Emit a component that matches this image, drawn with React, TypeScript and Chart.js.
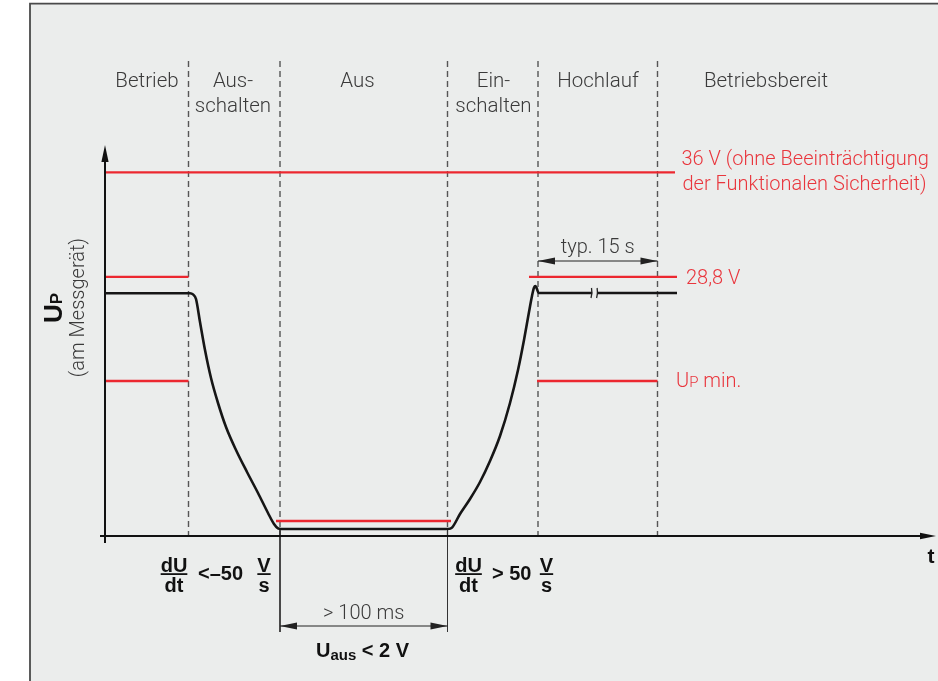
import { useEffect, useRef } from "react";
import { Chart, registerables } from "chart.js";

Chart.register(...registerables);

// ---------- Schematic coordinate system ----------
// x: time (schematic units), y: voltage level (schematic units)
const X_RANGE = [-21, 166.6];
const Y_RANGE = [-36.25, 134];

// ---------- Phases ----------
const phaseLabels = [["Betrieb"], ["Aus-", "schalten"], ["Aus"], ["Ein-", "schalten"], ["Hochlauf"], ["Betriebsbereit"]];
const phaseCenters = [8.4, 25.6, 50.5, 77.7, 98.6, 132.2];
const phaseBoundaries = [16.7, 35, 68.5, 86.6, 110.5];
const phaseTop = 118.75;

// ---------- Voltage levels ----------
const level36V = 90.9;
const level28V = 64.8;
const levelUpMin = 38.75;
const levelAus = 3.75;

// red limit segments
const redStart = [0, 0, 84.8, 0, 86.4, 34.2];
const redEnd = [114, 16.7, 114.4, 16.7, 110.5, 69.2];
const redLevel = [level36V, level28V, level28V, levelUpMin, levelUpMin, levelAus];

// ---------- Supply voltage U_P over time ----------
const upTime = [0, 17, 17.6, 18.2, 19, 20, 21.2, 22.6, 24.2, 26.2, 28.4, 30.6, 32.6, 33.8, 34.6, 35.2, 68.6, 69.4, 71, 73, 75, 77, 79, 81, 82.6, 83.8, 84.8, 85.4, 85.8, 86.1, 86.4, 86.7, 114.4];
const upLevel = [60.7, 60.7, 60.4, 59.25, 53.5, 46.5, 39.5, 33.25, 27.25, 21.5, 16, 10.75, 5.75, 3, 1.9, 1.75, 1.75, 2.1, 5.5, 9.25, 13.5, 18.75, 25, 33.25, 41.5, 49, 56, 60, 62.1, 62.5, 61.75, 60.75, 60.75];
const breakAt = 97.9;

// ---------- Axes ----------
const axisXStart = -1;
const axisXEnd = 166.2;
const axisYStart = -1.75;
const axisYEnd = 97.75;

// ---------- Dimensions ----------
const dimStart = [86.6, 35];
const dimEnd = [110.5, 68.5];
const dimLevel = [68.75, -22.5];
const dimText = ["typ. 15 s", "> 100 ms"];
const dimTextLevel = [70.75, -20.75];
const extLines = [35, 68.5];
const extTop = 1.5;
const extBottom = -24;

// ---------- Styles ----------
const GREY_BG = "#ebedec";
const FRAME = "#4a4a4a";
const RED = "#ec2830";
const RED_TEXT = "#e9363d";
const TEXT = "#3a3a3a";
const LIGHT = (s: number) => `300 ${s}px Roboto, "Liberation Sans", sans-serif`;
const BOLD = (s: number) => `bold ${s}px "Liberation Sans", Arial, sans-serif`;

type Run = { t: string; f: string; dy?: number };

function drawRuns(ctx: CanvasRenderingContext2D, runs: Run[], x: number, y: number, align: "left" | "center", color: string) {
  let total = 0;
  const widths: number[] = [];
  for (const r of runs) {
    ctx.font = r.f;
    const w = ctx.measureText(r.t).width;
    widths.push(w);
    total += w;
  }
  let cx = align === "center" ? x - total / 2 : x;
  ctx.fillStyle = color;
  ctx.textAlign = "left";
  ctx.textBaseline = "alphabetic";
  runs.forEach((r, i) => {
    ctx.font = r.f;
    ctx.fillText(r.t, cx, y + (r.dy || 0));
    cx += widths[i];
  });
}

function arrowHead(ctx: CanvasRenderingContext2D, tx: number, ty: number, dx: number, dy: number, len: number, half: number, color: string) {
  const bx = tx - dx * len;
  const by = ty - dy * len;
  const nx = -dy;
  const ny = dx;
  ctx.beginPath();
  ctx.moveTo(tx, ty);
  ctx.lineTo(bx + nx * half, by + ny * half);
  ctx.lineTo(bx - nx * half, by - ny * half);
  ctx.closePath();
  ctx.fillStyle = color;
  ctx.fill();
}

function fraction(ctx: CanvasRenderingContext2D, num: string, den: string, cx: number, ly: number) {
  ctx.font = BOLD(20);
  const w = Math.max(ctx.measureText(num).width, ctx.measureText(den).width);
  ctx.fillStyle = "#111";
  ctx.textAlign = "center";
  ctx.textBaseline = "alphabetic";
  ctx.fillText(num, cx, ly - 2.5);
  ctx.fillText(den, cx, ly + 18);
  ctx.fillRect(cx - w / 2, ly - 0.8, w, 1.8);
}

const diagramPlugin = {
  id: "diagram",
  beforeDraw(chart: any) {
    const { ctx, width, height } = chart;
    const sx = (v: number) => chart.scales.x.getPixelForValue(v);
    const sy = (v: number) => chart.scales.y.getPixelForValue(v);
    ctx.save();
    ctx.fillStyle = "#fff";
    ctx.fillRect(0, 0, width, height);
    const left = sx(-15);
    const top = sy(133.1);
    ctx.fillStyle = GREY_BG;
    ctx.fillRect(left, top, width - left, height - top);
    ctx.strokeStyle = FRAME;
    ctx.lineWidth = 1.8;
    ctx.beginPath();
    ctx.moveTo(left, height);
    ctx.lineTo(left, top);
    ctx.lineTo(width, top);
    ctx.stroke();
    ctx.restore();
  },
  afterDatasetsDraw(chart: any) {
    const { ctx } = chart;
    const sx = (v: number) => chart.scales.x.getPixelForValue(v);
    const sy = (v: number) => chart.scales.y.getPixelForValue(v);
    ctx.save();

    // axis arrowheads
    arrowHead(ctx, sx(0), sy(axisYEnd), 0, -1, 17, 3.6, "#111");
    arrowHead(ctx, sx(axisXEnd), sy(0), 1, 0, 16, 3.3, "#111");

    // dimension arrowheads
    dimStart.forEach((s, i) => {
      const y = sy(dimLevel[i]);
      arrowHead(ctx, sx(s), y, -1, 0, 17, 3.5, "#222");
      arrowHead(ctx, sx(dimEnd[i]), y, 1, 0, 17, 3.5, "#222");
      ctx.font = LIGHT(20);
      ctx.fillStyle = TEXT;
      ctx.textAlign = "center";
      ctx.textBaseline = "alphabetic";
      ctx.fillText(dimText[i], (sx(s) + sx(dimEnd[i])) / 2, sy(dimTextLevel[i]));
    });

    // break mark on U_P line
    const bx = sx(breakAt);
    const by = sy(60.75);
    ctx.fillStyle = GREY_BG;
    ctx.fillRect(bx - 2.4, by - 4, 4.8, 8);
    ctx.strokeStyle = "#222";
    ctx.lineWidth = 1.3;
    [-2.8, 2.8].forEach((o) => {
      ctx.beginPath();
      ctx.moveTo(bx + o - 0.7, by + 5);
      ctx.quadraticCurveTo(bx + o + 0.9, by, bx + o - 0.2, by - 5);
      ctx.stroke();
    });

    // phase labels
    ctx.font = LIGHT(20.5);
    ctx.fillStyle = TEXT;
    ctx.textAlign = "center";
    ctx.textBaseline = "alphabetic";
    phaseLabels.forEach((lines, i) => {
      lines.forEach((l, j) => {
        ctx.fillText(l, sx(phaseCenters[i]), sy(112.25 - j * 6.25));
      });
    });

    // level labels (red)
    ctx.font = LIGHT(20);
    ctx.textAlign = "left";
    ctx.fillStyle = RED_TEXT;
    ctx.fillText("36 V (ohne Beeinträchtigung", sx(115.3), sy(92.75));
    ctx.fillText("der Funktionalen Sicherheit)", sx(115.5), sy(86.4));
    ctx.fillText("28,8 V", sx(116.2), sy(62.9));
    drawRuns(ctx, [
      { t: "U", f: LIGHT(20) },
      { t: "P", f: LIGHT(15) },
      { t: " min.", f: LIGHT(20) },
    ], sx(114.2), sy(37.3), "left", RED_TEXT);

    // slope formulas
    fraction(ctx, "dU", "dt", sx(13.8), sy(-9.5));
    ctx.font = BOLD(20);
    ctx.fillStyle = "#111";
    ctx.textAlign = "left";
    ctx.fillText("<–50", sx(18.6), sy(-11));
    fraction(ctx, "V", "s", sx(31.8), sy(-9.5));

    fraction(ctx, "dU", "dt", sx(72.7), sy(-9.5));
    ctx.font = BOLD(20);
    ctx.fillStyle = "#111";
    ctx.textAlign = "left";
    ctx.fillText("> 50", sx(77.4), sy(-11));
    fraction(ctx, "V", "s", sx(88.3), sy(-9.5));

    // U_aus < 2 V
    drawRuns(ctx, [
      { t: "U", f: BOLD(20) },
      { t: "aus", f: BOLD(15), dy: 3 },
      { t: " < 2 V", f: BOLD(20) },
    ], sx(42.2), sy(-30.25), "left", "#111");

    // t axis label
    ctx.font = BOLD(21);
    ctx.fillStyle = "#111";
    ctx.textAlign = "left";
    ctx.fillText("t", sx(164.5), sy(-6.7));

    // y axis label (rotated)
    ctx.save();
    ctx.translate(sx(-8.6), sy(53.25));
    ctx.rotate(-Math.PI / 2);
    drawRuns(ctx, [
      { t: "U", f: BOLD(26) },
      { t: "P", f: BOLD(17) },
    ], 0, 0, "left", "#111");
    ctx.restore();

    ctx.save();
    ctx.translate(sx(-4.2), sy(57.1));
    ctx.rotate(-Math.PI / 2);
    ctx.font = LIGHT(20);
    ctx.fillStyle = TEXT;
    ctx.textAlign = "center";
    ctx.fillText("(am Messgerät)", 0, 0);
    ctx.restore();

    ctx.restore();
  },
};

function buildDatasets() {
  const ds: any[] = [];
  const line = (pts: { x: number; y: number }[], color: string, width: number, extra: any = {}) => ({
    data: pts,
    borderColor: color,
    borderWidth: width,
    pointRadius: 0,
    fill: false,
    tension: 0,
    ...extra,
  });
  // U_P curve (topmost)
  ds.push(line(upTime.map((t, i) => ({ x: t, y: upLevel[i] })), "#161616", 2.6, { cubicInterpolationMode: "monotone", borderJoinStyle: "round" }));
  // axes
  ds.push(line([{ x: 0, y: axisYStart }, { x: 0, y: axisYEnd - 3 }], "#111", 2));
  ds.push(line([{ x: axisXStart, y: 0 }, { x: axisXEnd - 2, y: 0 }], "#111", 2));
  // dimension lines
  dimStart.forEach((s, i) => ds.push(line([{ x: s, y: dimLevel[i] }, { x: dimEnd[i], y: dimLevel[i] }], "#222", 1)));
  extLines.forEach((x) => ds.push(line([{ x, y: extTop }, { x, y: extBottom }], "#333", 1)));
  // red limits
  redStart.forEach((s, i) => ds.push(line([{ x: s, y: redLevel[i] }, { x: redEnd[i], y: redLevel[i] }], RED, 2.3)));
  // dashed phase boundaries
  phaseBoundaries.forEach((b) => ds.push(line([{ x: b, y: phaseTop }, { x: b, y: 0 }], "#555", 1.4, { borderDash: [6, 4] })));
  return ds;
}

export default function App() {
  const ref = useRef<HTMLCanvasElement>(null);
  useEffect(() => {
    const chart = new Chart(ref.current as HTMLCanvasElement, {
      type: "line",
      data: { datasets: buildDatasets() },
      options: {
        animation: false,
        responsive: false,
        events: [],
        layout: { padding: 0, autoPadding: false },
        plugins: { legend: { display: false }, tooltip: { enabled: false }, title: { display: false } },
        scales: {
          x: { type: "linear", min: X_RANGE[0], max: X_RANGE[1], display: false },
          y: { type: "linear", min: Y_RANGE[0], max: Y_RANGE[1], display: false },
        },
      } as any,
      plugins: [diagramPlugin],
    });
    return () => chart.destroy();
  }, []);
  return (
    <div style={{ position: "fixed", left: 0, top: 0, width: 938, height: 681, background: "#fff" }}>
      <canvas ref={ref} width={938} height={681} style={{ display: "block", width: 938, height: 681 }} />
    </div>
  );
}
